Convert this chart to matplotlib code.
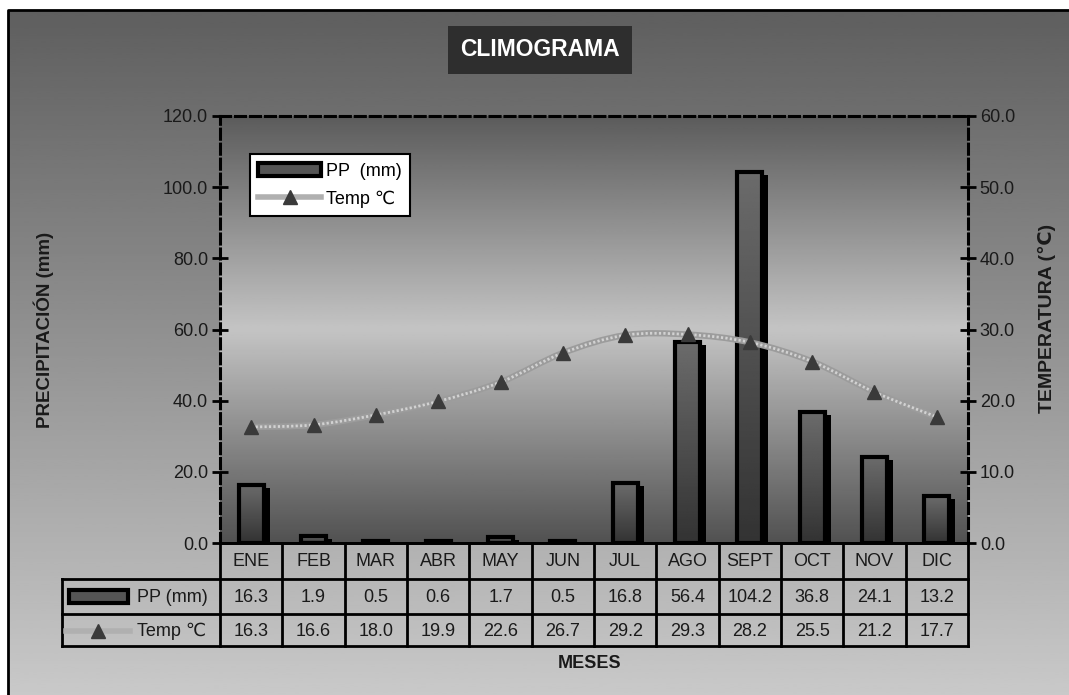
import numpy as np
import matplotlib
matplotlib.use("Agg")
import matplotlib.pyplot as plt
from matplotlib.lines import Line2D
from matplotlib.patches import Rectangle
from matplotlib.path import Path
from matplotlib.patches import PathPatch
from matplotlib.transforms import offset_copy
from matplotlib.ticker import FormatStrFormatter

plt.rcParams['font.family'] = ['Liberation Sans', 'DejaVu Sans']

# --- data ---
MONTHS = ['ENE', 'FEB', 'MAR', 'ABR', 'MAY', 'JUN', 'JUL', 'AGO', 'SEPT', 'OCT', 'NOV', 'DIC']
PP = [16.3, 1.9, 0.5, 0.6, 1.7, 0.5, 16.8, 56.4, 104.2, 36.8, 24.1, 13.2]
TEMP = [16.3, 16.6, 18.0, 19.9, 22.6, 26.7, 29.2, 29.3, 28.2, 25.5, 21.2, 17.7]
PP_LABEL = 'PP (mm)'
TEMP_LABEL = 'Temp \u2103'

W, H = 1069, 695
fig = plt.figure(figsize=(W / 100, H / 100), dpi=100)
fig.patch.set_facecolor('white')


def px_rect(x0, y0, x1, y1):
    # pixel box (top-left origin) -> figure fraction rect
    return [x0 / W, 1 - y1 / H, (x1 - x0) / W, (y1 - y0) / H]


# outer chart background with vertical gradient
bg = fig.add_axes(px_rect(8, 10, W + 20, H + 20))
grad = np.linspace(0.37, 0.80, 256).reshape(-1, 1)
bg.imshow(grad, cmap='gray', vmin=0, vmax=1, aspect='auto', extent=(0, 1, 0, 1), origin='upper')
bg.axis('off')
# frame: only left and top edges are inside the picture
fig.add_artist(Line2D([8 / W, 8 / W, 1.0], [0.0, 1 - 10 / H, 1 - 10 / H],
                      color='black', lw=2, transform=fig.transFigure))

# plot area
PL, PT, PR, PB = 220, 116, 968, 543
ax = fig.add_axes(px_rect(PL, PT, PR, PB))
ax.set_facecolor('none')
t = np.linspace(0, 1, 256)
shade = np.interp(t, [0, 0.5, 1], [0.36, 0.77, 0.32]).reshape(-1, 1)
ax.imshow(shade, cmap='gray', vmin=0, vmax=1, aspect='auto',
          extent=(-0.5, 11.5, 0, 120), origin='upper', zorder=0)

x = np.arange(len(MONTHS))
bw = 0.4
shadow_tr = offset_copy(ax.transData, fig=fig, x=6, y=-3, units='dots')
ax.bar(x, PP, bw, color='black', transform=shadow_tr, zorder=2)
bars = ax.bar(x, PP, bw, facecolor='none', edgecolor='black', linewidth=3, zorder=4)
bar_grad = np.linspace(0.42, 0.2, 128).reshape(-1, 1)
for b in bars:
    im = ax.imshow(bar_grad, cmap='gray', vmin=0, vmax=1, aspect='auto', origin='upper',
                   extent=(b.get_x(), b.get_x() + b.get_width(), 0, b.get_height()), zorder=3)
    im.set_clip_path(b)

ax.set_xlim(-0.5, 11.5)
ax.set_ylim(0, 120)
ax.set_yticks(np.arange(0, 121, 20))
ax.yaxis.set_major_formatter(FormatStrFormatter('%.1f'))
ax.set_xticks([])
ax.tick_params(axis='y', direction='inout', length=11, width=2, labelsize=13, pad=3,
               labelcolor='#1a1a1a')
for s in ['left', 'right', 'top']:
    ax.spines[s].set_linestyle((0, (3.3, 1.6)))
    ax.spines[s].set_linewidth(2.2)
ax.spines['bottom'].set_linewidth(2)

# temperature on secondary axis
ax2 = ax.twinx()
ax2.set_ylim(0, 60)
ax2.set_xlim(-0.5, 11.5)
ax2.set_yticks(np.arange(0, 61, 10))
ax2.yaxis.set_major_formatter(FormatStrFormatter('%.1f'))
ax2.tick_params(axis='y', direction='inout', length=11, width=2, labelsize=13, pad=3,
                labelcolor='#1a1a1a')
for s in ax2.spines.values():
    s.set_visible(False)

# smoothed line (Bezier through the data points)
pts = np.column_stack([x, TEMP]).astype(float)
verts = [tuple(pts[0])]
codes = [Path.MOVETO]
for i in range(len(pts) - 1):
    p0 = pts[max(i - 1, 0)]
    p1 = pts[i]
    p2 = pts[i + 1]
    p3 = pts[min(i + 2, len(pts) - 1)]
    c1 = p1 + (p2 - p0) / 6
    c2 = p2 - (p3 - p1) / 6
    verts += [tuple(c1), tuple(c2), tuple(p2)]
    codes += [Path.CURVE4] * 3
path = Path(verts, codes)
ax2.add_patch(PathPatch(path, facecolor='none', edgecolor='#9c9c9c', lw=4.5, zorder=5))
ax2.add_patch(PathPatch(path, facecolor='none', edgecolor='#d2d2d2', lw=2,
                        linestyle=(0, (0.8, 0.8)), zorder=6))
ax2.plot(x, TEMP, linestyle='none', marker='^', markersize=10, color='#3a3a3a', zorder=7)

# legend
h_bar = Rectangle((0, 0), 1, 1, facecolor='#555555', edgecolor='black', linewidth=3)
h_line = Line2D([], [], color='#b0b0b0', lw=4, marker='^', markersize=10,
                markerfacecolor='#3a3a3a', markeredgecolor='#3a3a3a')
leg = ax2.legend([h_bar, h_line], ['PP  (mm)', TEMP_LABEL], loc='upper left',
                 bbox_to_anchor=(0.04, 0.91), fontsize=13, frameon=True, fancybox=False,
                 framealpha=1, edgecolor='black', handlelength=3.5, handleheight=0.8,
                 borderpad=0.45, labelspacing=0.6, handletextpad=0.25, borderaxespad=0)
leg.get_frame().set_linewidth(1.5)

# data table under the plot
TL = 62
cw = (PR - PL) / 12
XL = -0.5 - (PL - TL) / cw
tab = fig.add_axes(px_rect(TL, PB, PR, 646))
tab.set_xlim(XL, 11.5)
tab.set_ylim(103, 0)
tab.axis('off')
lk = dict(color='black', lw=2, clip_on=False, solid_capstyle='projecting')
tab.plot([-0.5, 11.5], [0, 0], **lk)
for yy in [36, 71, 103]:
    tab.plot([XL, 11.5], [yy, yy], **lk)
for k in range(13):
    tab.plot([k - 0.5, k - 0.5], [0, 103], **lk)
tab.plot([XL, XL], [36, 103], **lk)
for i in range(12):
    tab.text(i, 19, MONTHS[i], ha='center', va='center', fontsize=13, color='#1a1a1a')
    tab.text(i, 54, f'{PP[i]:.1f}', ha='center', va='center', fontsize=13, color='#1a1a1a')
    tab.text(i, 88, f'{TEMP[i]:.1f}', ha='center', va='center', fontsize=13, color='#1a1a1a')
tab.add_patch(Rectangle((XL + 7 / cw, 47), 59 / cw, 13, facecolor='#555555',
                        edgecolor='black', lw=3, clip_on=False))
tab.plot([XL + 4 / cw, XL + 68 / cw], [88, 88], color='#b0b0b0', lw=4, clip_on=False)
tab.plot([XL + 36 / cw], [88], marker='^', markersize=10, color='#3a3a3a', clip_on=False)
tab.text(XL + 75 / cw, 54, PP_LABEL, ha='left', va='center', fontsize=13, color='#1a1a1a')
tab.text(XL + 75 / cw, 88, TEMP_LABEL, ha='left', va='center', fontsize=13, color='#1a1a1a')

# titles and axis labels
fig.text(540 / W, 1 - 50 / H, 'CLIMOGRAMA', ha='center', va='center', fontsize=16.5,
         fontweight='bold', color='white',
         bbox=dict(boxstyle='square,pad=0.55', facecolor='#2e2e2e', edgecolor='none'))
fig.text(44 / W, 1 - 330 / H, 'PRECIPITACIÓN (mm)', rotation=90, ha='center', va='center',
         fontsize=13.5, fontweight='bold', color='#1a1a1a')
fig.text(1047 / W, 1 - 318 / H, 'TEMPERATURA (\u2103)', rotation=90, ha='center', va='center',
         fontsize=14, fontweight='bold', color='#1a1a1a')
fig.text(590 / W, 1 - 663 / H, 'MESES', ha='center', va='center', fontsize=13,
         fontweight='bold', color='#1a1a1a')

fig.savefig('out.png', dpi=100)
